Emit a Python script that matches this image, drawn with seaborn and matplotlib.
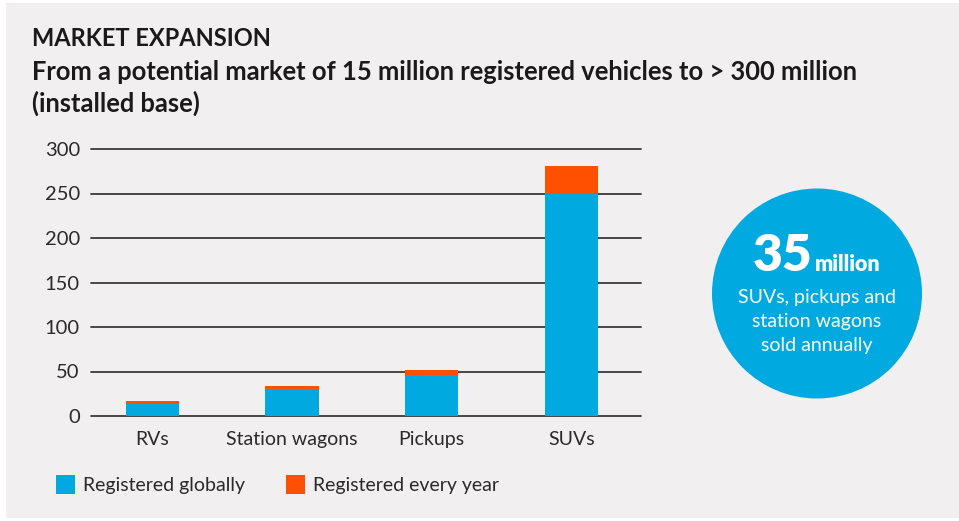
import matplotlib
matplotlib.use("Agg")
import matplotlib.pyplot as plt
import seaborn as sns
import pandas as pd
from matplotlib.patches import Rectangle, Ellipse

categories = ["RVs", "Station wagons", "Pickups", "SUVs"]
registered_globally = [14, 30, 46, 250]
registered_every_year = [3, 4, 6, 31]
y_ticks = [0, 50, 100, 150, 200, 250, 300]
series_names = ["Registered globally", "Registered every year"]

BLUE = "#00A9E0"
ORANGE = "#FF5000"
BG = "#F1EFF0"
TXT = "#2a2a2a"

sns.set_theme(style="white")
plt.rcParams['font.family'] = ['Lato', 'DejaVu Sans']

W, H = 959, 521
fig = plt.figure(figsize=(W / 100, H / 100), dpi=100)
fig.patch.set_facecolor("white")
fig.patches.append(Rectangle((6 / W, 3 / H), (W - 6) / W, (H - 6) / H,
                             transform=fig.transFigure, facecolor=BG,
                             edgecolor="none", zorder=-10))

def px(x0, y0, x1, y1):
    return [x0 / W, 1 - y1 / H, (x1 - x0) / W, (y1 - y0) / H]

ax = fig.add_axes(px(91, 149, 641, 416))
ax.set_facecolor("none")
ax.set_zorder(1)

df = pd.DataFrame({
    "category": categories,
    "globally": registered_globally,
    "total": [g + e for g, e in zip(registered_globally, registered_every_year)],
})

sns.barplot(data=df, x="category", y="total", color=ORANGE, width=0.38,
            saturation=1, linewidth=0, edgecolor="none", ax=ax, zorder=3)
sns.barplot(data=df, x="category", y="globally", color=BLUE, width=0.38,
            saturation=1, linewidth=0, edgecolor="none", ax=ax, zorder=4)

ax.set_ylim(0, 300)
ax.set_xlim(-0.44, 3.5)
ax.set_yticks(y_ticks)
ax.set_yticklabels([str(t) for t in y_ticks])
for t in y_ticks:
    ax.axhline(t, color="#3a3a3a", lw=1.3, zorder=2, clip_on=False)
ax.set_xlabel("")
ax.set_ylabel("")
for s in ax.spines.values():
    s.set_visible(False)
ax.tick_params(axis="y", length=0, pad=8, labelsize=14.5, labelcolor=TXT)
ax.tick_params(axis="x", length=0, pad=11, labelsize=14, labelcolor=TXT)

# Titles
tkw = dict(fontweight="bold", color="#1a1a1a", va="center", ha="left")
fig.text(32 / W, 1 - 38 / H, "MARKET EXPANSION", fontsize=17, **tkw)
fig.text(32 / W, 1 - 72 / H,
         "From a potential market of 15 million registered vehicles to > 300 million",
         fontsize=18.4, **tkw)
fig.text(32 / W, 1 - 103 / H, "(installed base)", fontsize=18.4, **tkw)

# Legend
for (x0, name, col) in [(56, series_names[0], BLUE), (286, series_names[1], ORANGE)]:
    fig.patches.append(Rectangle((x0 / W, 1 - 494 / H), 19 / W, 19 / H,
                                 transform=fig.transFigure, facecolor=col,
                                 edgecolor="none", zorder=3))
    fig.text((x0 + 27) / W, 1 - 485 / H, name, fontsize=14,
             color=TXT, va="center", ha="left")

# Circle callout
fig.patches.append(Ellipse((817 / W, 1 - 293.5 / H), 210 / W, 210 / H,
                           transform=fig.transFigure, facecolor=BLUE,
                           edgecolor="none", zorder=3))
fig.text(813 / W, 1 - 271 / H, "35", fontsize=37, fontweight="heavy",
         color="white", ha="right", va="baseline", zorder=5)
fig.text(815 / W, 1 - 271 / H, "million", fontsize=15.5, fontweight="heavy",
         color="white", ha="left", va="baseline", zorder=5)
for yy, line in [(298, "SUVs, pickups and"), (322, "station wagons"), (345, "sold annually")]:
    fig.text(817 / W, 1 - yy / H, line, fontsize=14,
             color="white", ha="center", va="center", zorder=5)

fig.savefig("out.png", dpi=100, facecolor=fig.get_facecolor())
